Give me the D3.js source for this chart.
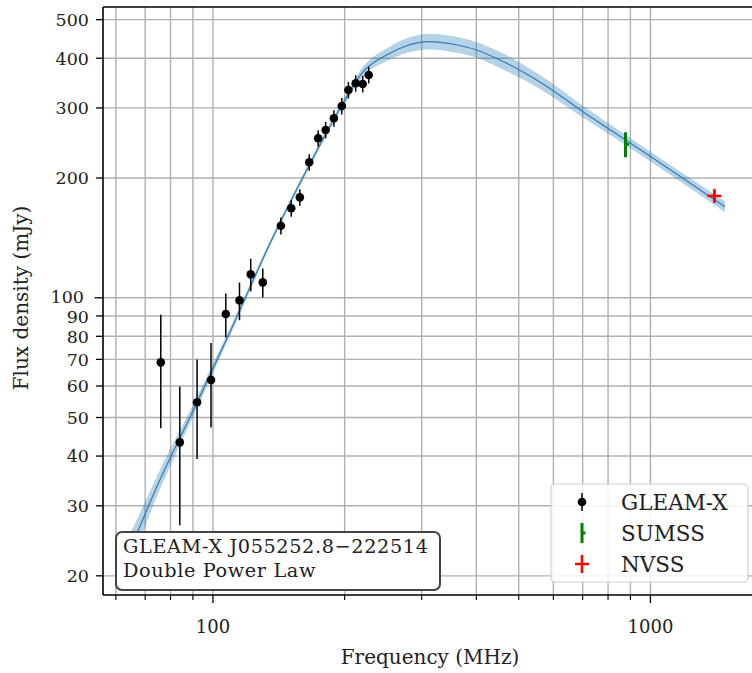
<!DOCTYPE html>
<html>
<head>
<meta charset="utf-8">
<script src="https://cdn.jsdelivr.net/npm/d3@7"></script>
<style>
  html, body { margin: 0; padding: 0; background: #fff; }
  svg text { font-family: "DejaVu Serif", "Liberation Serif", serif; fill: #222; }
</style>
</head>
<body>
<svg id="chart" width="752" height="673"></svg>
<script>
// ---- Data ----
const gleamFreq = [76, 84, 92, 99, 107, 115, 122, 130, 143, 151, 158, 166, 174, 181, 189, 197, 204, 212, 220, 227];
const gleamFlux = [68.8, 43.3, 54.6, 62.1, 91.0, 98.5, 114.5, 109.3, 151.7, 167.8, 178.8, 219.1, 251.7, 264.1, 282.6, 303.4, 332.9, 346.0, 344.6, 363.1];
const gleamErr  = [21.8, 16.5, 15.3, 14.9, 11.5, 10.7, 10.8, 9.2, 7.5, 8.0, 8.5, 10.5, 12.0, 12.5, 13.5, 14.5, 16.0, 16.5, 16.5, 17.5];

const sumssFreq = [877];
const sumssFlux = [243];
const sumssErr  = [17.5];

const nvssFreq = [1400];
const nvssFlux = [180.3];
const nvssErr  = [6];

const modelFreq = [62, 66.7, 73.7, 91.8, 109.4, 136.2, 167.5, 200.3, 220.5, 249.5, 277.2, 313.3, 354.2, 400.6, 452.9, 563.6, 701, 877.6, 1108, 1480];
const modelFlux = [21.4, 25.3, 32.7, 54.3, 82.0, 139.7, 219.4, 314, 370, 407.7, 430, 440.3, 433.7, 419.6, 396, 346.6, 293.6, 249.2, 210, 169.3];
const modelLo   = [19.6, 23.4, 30.8, 52.5, 80.2, 137.4, 215.7, 307, 360, 393, 412, 420.5, 414, 401, 378, 333, 284, 242, 204, 164];
const modelHi   = [23.3, 27.4, 34.8, 56.2, 83.9, 142.1, 223.1, 321, 381, 423, 449, 461, 454, 439, 415, 361, 304, 256.4, 216, 174.7];

const yTickVals = [20, 30, 40, 50, 60, 70, 80, 90, 100, 200, 300, 400, 500];
const yTickLabels = ["20", "30", "40", "50", "60", "70", "80", "90", "100", "200", "300", "400", "500"];
const xMajorTicks = [100, 1000];
const xMajorLabels = ["100", "1000"];
const xMinorTicks = [60, 70, 80, 90, 200, 300, 400, 500, 600, 700, 800, 900];

const sourceName = "GLEAM-X J055252.8\u2212222514";
const modelName = "Double Power Law";
const legendLabels = ["GLEAM-X", "SUMSS", "NVSS"];

// ---- Layout ----
const svg = d3.select("#chart");
const plot = { left: 103, right: 760, top: 7, bottom: 595 };

const x = d3.scaleLog().domain([56.07, 1780]).range([plot.left, plot.right]);
const y = d3.scaleLog().domain([17.9, 538]).range([plot.bottom, plot.top]);

svg.append("defs").append("clipPath").attr("id", "clip")
  .append("rect").attr("x", plot.left).attr("y", plot.top)
  .attr("width", plot.right - plot.left).attr("height", plot.bottom - plot.top);

// grid
const grid = svg.append("g").attr("clip-path", "url(#clip)");
const gridColor = "#b0b0b0";
grid.selectAll("line.vg").data(xMajorTicks.concat(xMinorTicks)).enter().append("line")
  .attr("x1", d => x(d)).attr("x2", d => x(d))
  .attr("y1", plot.top).attr("y2", plot.bottom)
  .attr("stroke", gridColor).attr("stroke-width", 1.4);
grid.selectAll("line.hg").data(yTickVals).enter().append("line")
  .attr("x1", plot.left).attr("x2", plot.right)
  .attr("y1", d => y(d)).attr("y2", d => y(d))
  .attr("stroke", gridColor).attr("stroke-width", 1.4);

// model band + line
const model = modelFreq.map((f, i) => ({ f, s: modelFlux[i], lo: modelLo[i], hi: modelHi[i] }));
const gModel = svg.append("g").attr("clip-path", "url(#clip)");
gModel.append("path").datum(model)
  .attr("d", d3.area().x(d => x(d.f)).y0(d => y(d.lo)).y1(d => y(d.hi)).curve(d3.curveMonotoneX))
  .attr("fill", "#1f77b4").attr("fill-opacity", 0.33).attr("stroke", "none");
gModel.append("path").datum(model)
  .attr("d", d3.line().x(d => x(d.f)).y(d => y(d.s)).curve(d3.curveMonotoneX))
  .attr("fill", "none").attr("stroke", "#2f7bb6").attr("stroke-width", 1.2);

// GLEAM-X points
const gleam = gleamFreq.map((f, i) => ({ f, s: gleamFlux[i], e: gleamErr[i] }));
const gPts = svg.append("g").attr("clip-path", "url(#clip)");
gPts.selectAll("line.eb").data(gleam).enter().append("line")
  .attr("x1", d => x(d.f)).attr("x2", d => x(d.f))
  .attr("y1", d => y(d.s - d.e)).attr("y2", d => y(d.s + d.e))
  .attr("stroke", "#000").attr("stroke-width", 1.5);
gPts.selectAll("circle").data(gleam).enter().append("circle")
  .attr("cx", d => x(d.f)).attr("cy", d => y(d.s)).attr("r", 4.3)
  .attr("fill", "#000");

// SUMSS
const sumss = sumssFreq.map((f, i) => ({ f, s: sumssFlux[i], e: sumssErr[i] }));
sumss.forEach(d => {
  gPts.append("line").attr("x1", x(d.f)).attr("x2", x(d.f))
    .attr("y1", y(d.s - d.e)).attr("y2", y(d.s + d.e))
    .attr("stroke", "#008000").attr("stroke-width", 3);
  gPts.append("line").attr("x1", x(d.f)).attr("x2", x(d.f) + 3.5)
    .attr("y1", y(d.s)).attr("y2", y(d.s))
    .attr("stroke", "#008000").attr("stroke-width", 3);
});

// NVSS
const nvss = nvssFreq.map((f, i) => ({ f, s: nvssFlux[i], e: nvssErr[i] }));
nvss.forEach(d => {
  gPts.append("line").attr("x1", x(d.f)).attr("x2", x(d.f))
    .attr("y1", y(d.s - d.e)).attr("y2", y(d.s + d.e))
    .attr("stroke", "#ff0000").attr("stroke-width", 2.5);
  gPts.append("line").attr("x1", x(d.f) - 7).attr("x2", x(d.f) + 7)
    .attr("y1", y(d.s)).attr("y2", y(d.s))
    .attr("stroke", "#ff0000").attr("stroke-width", 2.5);
  gPts.append("line").attr("x1", x(d.f)).attr("x2", x(d.f))
    .attr("y1", y(d.s) - 7).attr("y2", y(d.s) + 7)
    .attr("stroke", "#ff0000").attr("stroke-width", 2.5);
});

// spines
const spines = svg.append("g");
spines.append("line").attr("x1", plot.left).attr("x2", plot.left).attr("y1", plot.top).attr("y2", plot.bottom)
  .attr("stroke", "#000").attr("stroke-width", 1.6);
spines.append("line").attr("x1", plot.left).attr("x2", plot.right).attr("y1", plot.bottom).attr("y2", plot.bottom)
  .attr("stroke", "#000").attr("stroke-width", 1.6);
spines.append("line").attr("x1", plot.left).attr("x2", plot.right).attr("y1", plot.top).attr("y2", plot.top)
  .attr("stroke", "#000").attr("stroke-width", 1.6);

// y axis ticks + labels
const yAx = svg.append("g");
yAx.selectAll("line").data(yTickVals).enter().append("line")
  .attr("x1", d => plot.left - (d === 100 ? 8.5 : 7)).attr("x2", plot.left)
  .attr("y1", d => y(d)).attr("y2", d => y(d))
  .attr("stroke", "#000").attr("stroke-width", 1.3);
yAx.selectAll("text").data(yTickVals).enter().append("text")
  .attr("x", d => plot.left - (d === 100 ? 19 : 14))
  .attr("y", d => y(d) + (d === 100 ? -1.5 : (d === 90 ? 1 : 0)))
  .attr("dy", "0.36em")
  .attr("text-anchor", "end").attr("font-size", 17.5)
  .text((d, i) => yTickLabels[i]);

// x axis ticks + labels
const xAx = svg.append("g");
xAx.selectAll("line.maj").data(xMajorTicks).enter().append("line")
  .attr("x1", d => x(d)).attr("x2", d => x(d))
  .attr("y1", plot.bottom).attr("y2", plot.bottom + 8)
  .attr("stroke", "#000").attr("stroke-width", 1.3);
xAx.selectAll("line.min").data(xMinorTicks).enter().append("line")
  .attr("x1", d => x(d)).attr("x2", d => x(d))
  .attr("y1", plot.bottom).attr("y2", plot.bottom + 5)
  .attr("stroke", "#000").attr("stroke-width", 1.1);
xAx.selectAll("text").data(xMajorTicks).enter().append("text")
  .attr("x", d => x(d)).attr("y", plot.bottom + 38)
  .attr("text-anchor", "middle").attr("font-size", 18)
  .text((d, i) => xMajorLabels[i]);

// axis titles
svg.append("text").attr("x", 430).attr("y", 664).attr("text-anchor", "middle")
  .attr("font-size", 20).text("Frequency (MHz)");
svg.append("text").attr("transform", "translate(28,298) rotate(-90)").attr("text-anchor", "middle")
  .attr("font-size", 20).text("Flux density (mJy)");

// annotation box
const ann = svg.append("g");
ann.append("rect").attr("x", 116).attr("y", 532).attr("width", 324).attr("height", 58)
  .attr("rx", 6).attr("ry", 6).attr("fill", "#fff").attr("stroke", "#444").attr("stroke-width", 2);
ann.append("text").attr("x", 123).attr("y", 553).attr("font-size", 19.3)
  .attr("letter-spacing", "0.6px").text(sourceName);
ann.append("text").attr("x", 123).attr("y", 576.5).attr("font-size", 19.3)
  .attr("letter-spacing", "0.6px").text(modelName);

// legend
const leg = svg.append("g");
leg.append("rect").attr("x", 551).attr("y", 484).attr("width", 197).attr("height", 98)
  .attr("rx", 4).attr("ry", 4).attr("fill", "#fff").attr("fill-opacity", 0.85)
  .attr("stroke", "#d0d0d0").attr("stroke-width", 1.2);
const legY = [502, 533, 564];
const mx = 582;
// GLEAM-X
leg.append("line").attr("x1", mx).attr("x2", mx).attr("y1", legY[0] - 9).attr("y2", legY[0] + 9)
  .attr("stroke", "#000").attr("stroke-width", 1.5);
leg.append("circle").attr("cx", mx).attr("cy", legY[0]).attr("r", 4.3).attr("fill", "#000");
// SUMSS
leg.append("line").attr("x1", mx).attr("x2", mx).attr("y1", legY[1] - 10).attr("y2", legY[1] + 10)
  .attr("stroke", "#008000").attr("stroke-width", 3);
leg.append("line").attr("x1", mx).attr("x2", mx + 3.5).attr("y1", legY[1]).attr("y2", legY[1])
  .attr("stroke", "#008000").attr("stroke-width", 3);
// NVSS
leg.append("line").attr("x1", mx).attr("x2", mx).attr("y1", legY[2] - 9).attr("y2", legY[2] + 9)
  .attr("stroke", "#ff0000").attr("stroke-width", 2.5);
leg.append("line").attr("x1", mx - 7).attr("x2", mx + 7).attr("y1", legY[2]).attr("y2", legY[2])
  .attr("stroke", "#ff0000").attr("stroke-width", 2.5);
leg.selectAll("text").data(legendLabels).enter().append("text")
  .attr("x", 621).attr("y", (d, i) => legY[i]).attr("dy", "0.36em").attr("font-size", 21.5)
  .text(d => d);
</script>
</body>
</html>
